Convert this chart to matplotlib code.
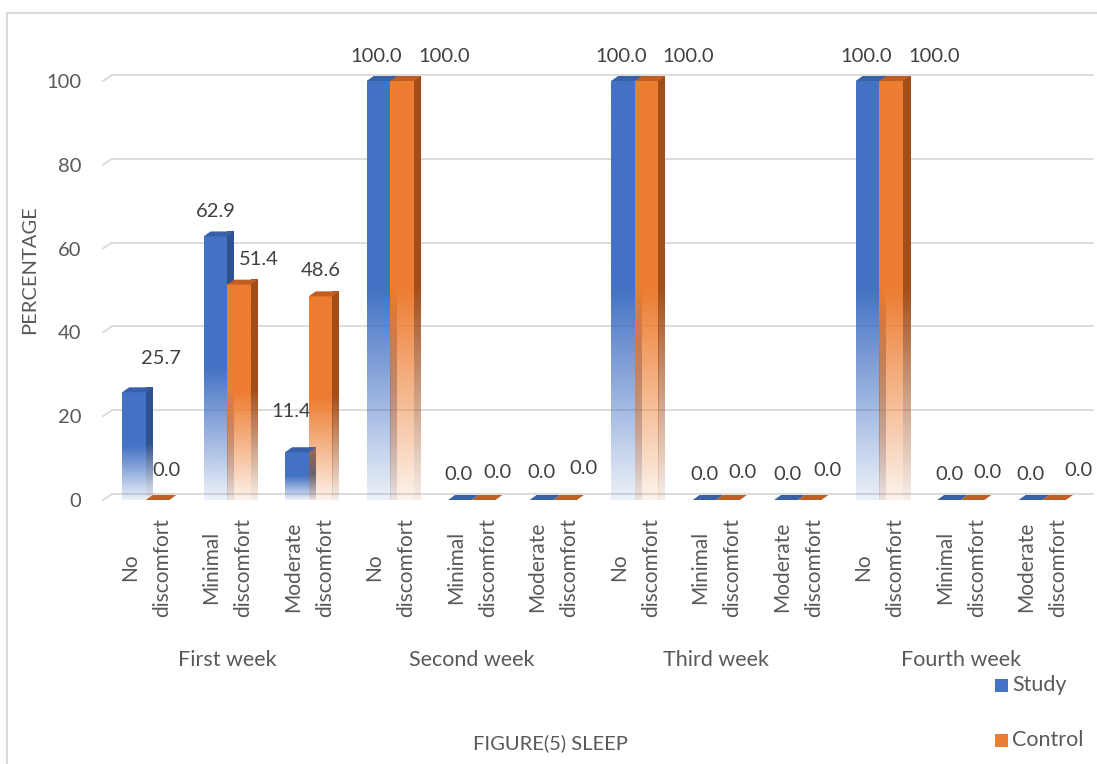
import numpy as np
import matplotlib
matplotlib.use("Agg")
import matplotlib.pyplot as plt
from matplotlib.patches import Polygon, Rectangle
from matplotlib.colors import to_rgb

plt.rcParams['font.family'] = ['Lato', 'DejaVu Sans']

weeks = ["First week", "Second week", "Third week", "Fourth week"]
levels = ["No\ndiscomfort", "Minimal\ndiscomfort", "Moderate\ndiscomfort"]
study = [25.7, 62.9, 11.4, 100.0, 0.0, 0.0, 100.0, 0.0, 0.0, 100.0, 0.0, 0.0]
control = [0.0, 51.4, 48.6, 100.0, 0.0, 0.0, 100.0, 0.0, 0.0, 100.0, 0.0, 0.0]

# label nudges in pixels (dx, dy above bar top)
study_nudge = [(27, 34), (0, 25), (-6, 41), (-2, 25), (-1, 25), (0, 27),
               (-2, 25), (0, 26), (2, 26), (-1, 25), (1, 26), (0, 26)]
control_nudge = [(9, 30), (20, 25), (0, 26), (42, 25), (14, 27), (18, 31),
                 (42, 25), (14, 27), (18, 30), (43, 25), (15, 27), (24, 30)]

W, H = 1097, 764
fig = plt.figure(figsize=(W / 100, H / 100), dpi=100)

# axes placed in pixel terms
x_left, x_right = 105, 1083
y_top, y_bot = 81, 500
ax = fig.add_axes([x_left / W, 1 - y_bot / H, (x_right - x_left) / W, (y_bot - y_top) / H])
n = len(study)
ax.set_xlim(-0.5, n - 0.5)
ax.set_ylim(0, 100)
for s in ax.spines.values():
    s.set_visible(False)

px_x = n / (x_right - x_left)   # data units per pixel (x)
px_y = 100 / (y_bot - y_top)    # data units per pixel (y)

# back-wall gridlines with a short slant on the left
gdx, gdy = 9 * px_x, 6 * px_y
for g in range(0, 101, 20):
    ax.plot([-0.5 - 2 * px_x, -0.5 - 2 * px_x + gdx], [g, g + gdy], color="#d9d9d9", lw=1.3, clip_on=False, zorder=1)
    ax.plot([-0.5 - 2 * px_x + gdx, n - 0.5 + 10 * px_x], [g + gdy, g + gdy], color="#d9d9d9", lw=1.3, clip_on=False, zorder=1)

ax.set_yticks(range(0, 101, 20))
ax.tick_params(axis='y', length=0, pad=17, labelsize=14.5, labelcolor="#595959")
ax.set_xticks([])

bw = 0.29
ddx, ddy = 7 * px_x, 5 * px_y


def fade(color, v, x0, x1, clip=None, z=3):
    rgb = np.array(to_rgb(color))
    t = np.linspace(0, 1, 200)
    alpha = np.clip(0.1 + 0.9 * t / 0.5, 0, 1)
    img = np.zeros((200, 1, 4))
    img[:, 0, :3] = rgb
    img[:, 0, 3] = alpha
    im = ax.imshow(img, extent=(x0, x1, 0, v), origin='lower', aspect='auto',
                   interpolation='bilinear', zorder=z, clip_on=False)
    if clip is not None:
        ax.add_patch(clip)
        im.set_clip_path(clip)
    return im


def bar3d(x0, v, front, side, top, z):
    if v > 0:
        fade(front, v, x0, x0 + bw, z=z)
        side_poly = Polygon([(x0 + bw, 0), (x0 + bw + ddx, ddy), (x0 + bw + ddx, v + ddy), (x0 + bw, v)],
                            closed=True, facecolor='none', edgecolor='none', transform=ax.transData)
        fade(side, v + ddy, x0 + bw, x0 + bw + ddx, clip=side_poly, z=z)
    ax.add_patch(Polygon([(x0, v), (x0 + ddx, v + ddy), (x0 + bw + ddx, v + ddy), (x0 + bw, v)],
                         closed=True, facecolor=top, edgecolor='none', zorder=z + 0.5, clip_on=False))


blue = ("#4472C4", "#2F528F", "#3A60A8")
orange = ("#ED7D31", "#A24E1B", "#BF5F22")

for i in range(n):
    bar3d(i - bw, study[i], *blue, z=3 + i * 0.01)
    bar3d(i, control[i], *orange, z=3.005 + i * 0.01)

    for val, x0, (dx, dy) in ((study[i], i - bw, study_nudge[i]), (control[i], i, control_nudge[i])):
        ax.annotate(f"{val:.1f}", xy=(x0 + bw / 2, val), xytext=(dx, dy),
                    textcoords='offset pixels', ha='center', va='center',
                    fontsize=14.5, color="#404040", annotation_clip=False)

    # category label
    ax.text(i, -16, levels[i % 3], rotation=90, ha='center', va='center',
            multialignment='center', fontsize=15, color="#595959", linespacing=1.75)

for k, wk in enumerate(weeks):
    ax.text(3 * k + 1, -38.3, wk, ha='center', va='center', fontsize=15.5, color="#595959")

fig.text(30 / W, 1 - 270 / H, "PERCENTAGE", rotation=90, ha='center', va='center',
         fontsize=14.5, color="#595959")
fig.text(550 / W, 1 - 743 / H, "FIGURE(5) SLEEP", ha='center', va='center',
         fontsize=14.5, color="#595959")

# legend entries
for lab, col, yc in (("Study", blue[0], 685), ("Control", orange[0], 740)):
    fig.patches.append(Rectangle((995 / W, 1 - (yc + 6.5) / H), 13 / W, 13 / H,
                                 transform=fig.transFigure, facecolor=col, edgecolor='none'))
    fig.text(1012 / W, 1 - yc / H, lab, ha='left', va='center', fontsize=15.5, color="#595959")

# chart area border
fig.patches.append(Rectangle((7 / W, -0.05), 1.1, 1.05 - 13 / H, transform=fig.transFigure,
                             facecolor='none', edgecolor="#d9d9d9", lw=1.5))

fig.savefig("out.png", dpi=100)
